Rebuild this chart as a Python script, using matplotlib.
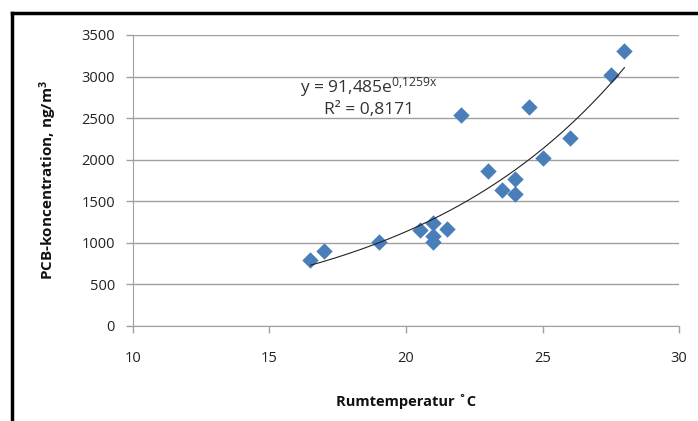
import numpy as np
import matplotlib.pyplot as plt
from matplotlib.lines import Line2D

# room temperature (C) and measured PCB concentration (ng/m3)
temp = [16.5, 17, 19, 20.5, 21, 21, 21, 21.5, 22, 23, 23.5, 24, 24, 24.5, 25, 26, 27.5, 28]
pcb = [790, 905, 1010, 1150, 1240, 1080, 1010, 1170, 2540, 1860, 1630, 1770, 1590, 2630, 2020, 2260, 3020, 3310]

# exponential trend line y = a*exp(b*x)
a, b = 91.485, 0.1259
r2 = 0.8171

xticks = [10, 15, 20, 25, 30]
yticks = [0, 500, 1000, 1500, 2000, 2500, 3000, 3500]

plt.rcParams['font.family'] = ['Open Sans', 'DejaVu Sans']
plt.rcParams['mathtext.default'] = 'regular'

fig = plt.figure(figsize=(6.98, 4.21), dpi=100)
ax = fig.add_axes([0.1905, 0.2257, 0.7823, 0.6912])

ax.set_xlim(10, 30)
ax.set_ylim(0, 3500)
ax.set_xticks(xticks)
ax.set_yticks(yticks)
ax.grid(axis='y', color='#a0a0a0', linewidth=1)
ax.set_axisbelow(True)
for s in ['top', 'right']:
    ax.spines[s].set_visible(False)
for s in ['left', 'bottom']:
    ax.spines[s].set_color('#a0a0a0')
ax.tick_params(axis='both', colors='#a0a0a0', labelcolor='#222222', labelsize=10.5,
               length=5, width=1)
ax.tick_params(axis='x', pad=13)
ax.tick_params(axis='y', pad=8)

ax.scatter(temp, pcb, marker='D', s=70, color='#4a7ebb', zorder=3, linewidths=0)

xs = np.linspace(min(temp), max(temp), 200)
ax.plot(xs, a * np.exp(b * xs), color='#222222', linewidth=0.8, zorder=4)

ax.text(18.65, 2870, 'y = 91,485e$^{0{,}1259x}$', ha='center', va='center', fontsize=12.5, color='#333333')
ax.text(18.65, 2600, 'R² = 0,8171', ha='center', va='center', fontsize=12.5, color='#333333')

ax.set_xlabel('Rumtemperatur ˚C', fontsize=10.5, fontweight='bold', labelpad=20, color='#111111')
ax.set_ylabel('PCB-koncentration, ng/m$^3$', fontsize=11, fontweight='bold', labelpad=16, color='#111111')

# dark frame on the left and top edges
fig.add_artist(Line2D([0.0165, 0.0165], [0.0, 0.969], transform=fig.transFigure, color='black', linewidth=2.5))
fig.add_artist(Line2D([0.0165, 1.0], [0.969, 0.969], transform=fig.transFigure, color='black', linewidth=2.5))

fig.savefig('out.png', dpi=100)
